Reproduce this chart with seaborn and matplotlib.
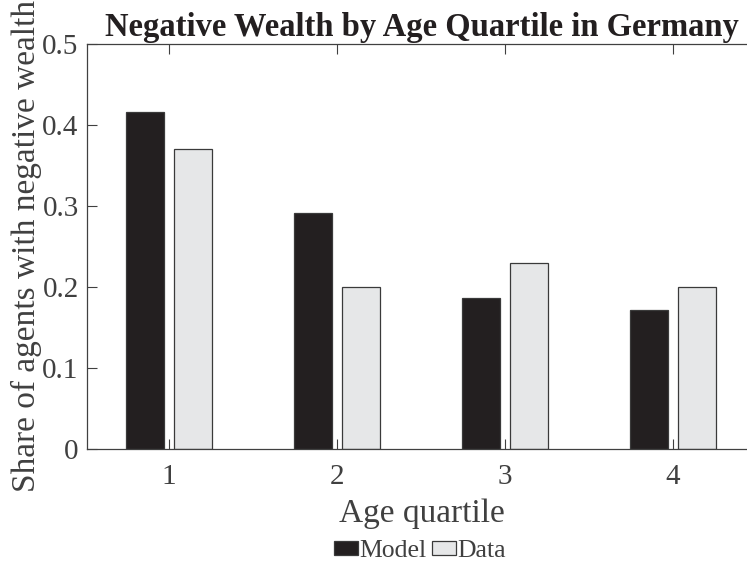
import pandas as pd
import matplotlib.pyplot as plt
import seaborn as sns

# values
quartiles = ["1", "2", "3", "4"]
model_share = [0.416, 0.291, 0.187, 0.171]
data_share = [0.370, 0.200, 0.230, 0.200]
series = ["Model", "Data"]

df = pd.DataFrame({
    "quartile": quartiles * 2,
    "share": model_share + data_share,
    "series": [series[0]] * 4 + [series[1]] * 4,
})

sns.set_style("white")
plt.rcParams["font.family"] = ["Liberation Serif", "DejaVu Serif"]

txt = "#404040"
fig = plt.figure(figsize=(7.47, 5.65), dpi=100)
ax = fig.add_axes([87 / 747, 1 - 449 / 565, (757 - 87) / 747, (449 - 44) / 565])

sns.barplot(data=df, x="quartile", y="share", hue="series", order=quartiles,
            hue_order=series, palette=["#231f20", "#e6e7e8"], width=0.572, gap=0.19,
            edgecolor="#3a3a3a", linewidth=0.9, saturation=1, ax=ax)

ax.set_xlim(-0.488, 3.5)
ax.set_ylim(0, 0.5)
ax.set_yticks([0, 0.1, 0.2, 0.3, 0.4, 0.5])
ax.set_yticklabels(["0", "0.1", "0.2", "0.3", "0.4", "0.5"])
ax.tick_params(axis="both", direction="in", length=7, width=0.8, colors=txt,
               labelsize=21, top=True, left=True, bottom=True)
ax.tick_params(axis="x", pad=11)
ax.tick_params(axis="y", pad=6)
for s in ax.spines.values():
    s.set_color(txt)
    s.set_linewidth(0.9)

ax.set_xlabel("Age quartile", fontsize=24, color=txt, labelpad=6)
ax.set_ylabel("Share of agents with negative wealth", fontsize=24, color=txt, labelpad=0)
ax.set_title("Negative Wealth by Age Quartile in Germany", fontsize=23.5,
             fontweight="bold", color="#231f20", pad=6)

handles, labels = ax.get_legend_handles_labels()
ax.legend(handles, labels, loc="center", bbox_to_anchor=(420 / 747, 1 - 551 / 565),
          bbox_transform=fig.transFigure, ncol=2, frameon=False, fontsize=18.5,
          handlelength=0.95, handleheight=0.45, handletextpad=0.05, columnspacing=0.2,
          labelcolor=txt, borderpad=0)

fig.savefig("out.png", dpi=100)
